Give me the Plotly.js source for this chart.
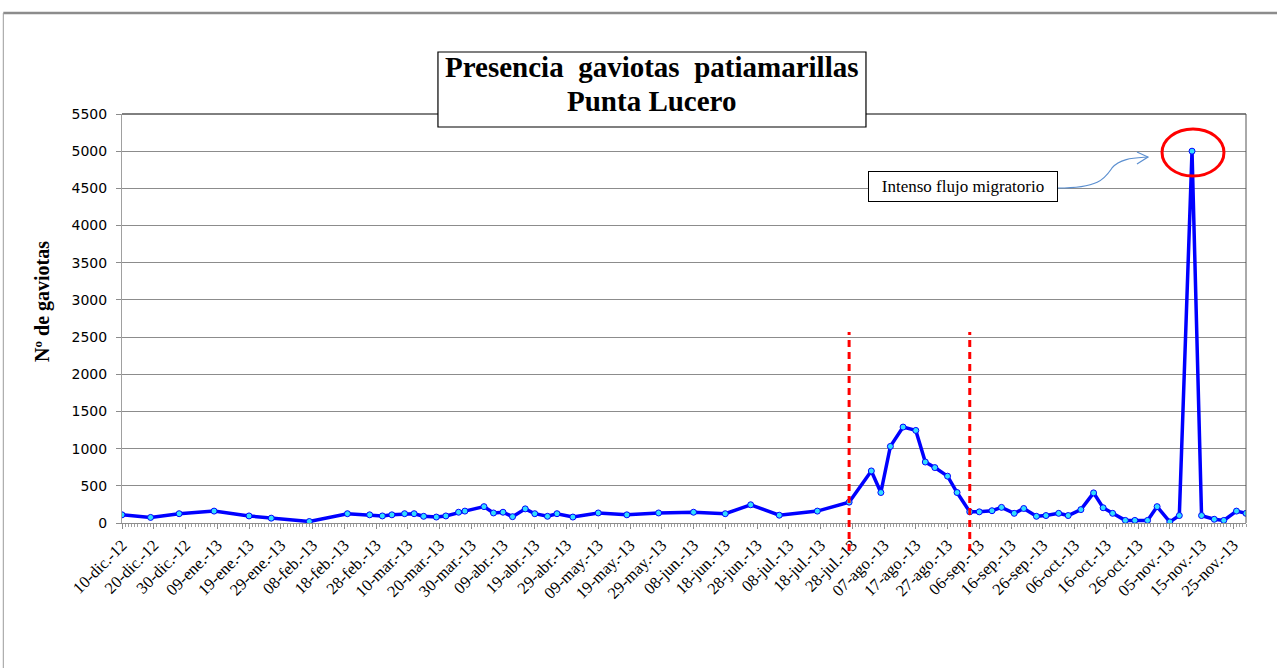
<!DOCTYPE html>
<html>
<head>
<meta charset="utf-8">
<script src="https://cdn.plot.ly/plotly-3.0.1.min.js"></script>
<style>
  html, body { margin: 0; padding: 0; background: #fff; }
  #chart { width: 1277px; height: 668px; }
</style>
</head>
<body>
<div id="chart"></div>
<script>
// ---- data ----
const dates = [
  '2012-12-10','2012-12-19','2012-12-28','2013-01-08','2013-01-19','2013-01-26','2013-02-07',
  '2013-02-19','2013-02-26','2013-03-02','2013-03-05','2013-03-09','2013-03-12','2013-03-15',
  '2013-03-19','2013-03-22','2013-03-26','2013-03-28','2013-04-03','2013-04-06','2013-04-09',
  '2013-04-12','2013-04-16','2013-04-19','2013-04-23','2013-04-26','2013-05-01','2013-05-09',
  '2013-05-18','2013-05-28','2013-06-08','2013-06-18','2013-06-26','2013-07-05','2013-07-17',
  '2013-07-27','2013-08-03','2013-08-06','2013-08-09','2013-08-13','2013-08-17','2013-08-20',
  '2013-08-23','2013-08-27','2013-08-30','2013-09-03','2013-09-06','2013-09-10','2013-09-13',
  '2013-09-17','2013-09-20','2013-09-24','2013-09-27','2013-10-01','2013-10-04','2013-10-08',
  '2013-10-12','2013-10-15','2013-10-18','2013-10-22','2013-10-25','2013-10-29','2013-11-01',
  '2013-11-05','2013-11-08','2013-11-12','2013-11-15','2013-11-19','2013-11-22','2013-11-26',
  '2013-11-29'
];
const gaviotas = [
  110, 75, 125, 160, 95, 65, 20,
  125, 110, 95, 110, 125, 125, 90,
  80, 95, 145, 160, 220, 135, 145,
  85, 190, 125, 90, 125, 80, 135,
  110, 135, 145, 125, 245, 105, 160,
  280, 700, 410, 1030, 1290, 1245, 820,
  745, 630, 410, 150, 150, 165, 210,
  130, 195, 90, 100, 130, 100, 180,
  405, 205, 130, 35, 35, 35, 220,
  15, 100, 5000, 100, 50, 35, 160,
  130
];
const tickDates = [
  '2012-12-10','2012-12-20','2012-12-30','2013-01-09','2013-01-19','2013-01-29','2013-02-08',
  '2013-02-18','2013-02-28','2013-03-10','2013-03-20','2013-03-30','2013-04-09','2013-04-19',
  '2013-04-29','2013-05-09','2013-05-19','2013-05-29','2013-06-08','2013-06-18','2013-06-28',
  '2013-07-08','2013-07-18','2013-07-28','2013-08-07','2013-08-17','2013-08-27','2013-09-06',
  '2013-09-16','2013-09-26','2013-10-06','2013-10-16','2013-10-26','2013-11-05','2013-11-15',
  '2013-11-25'
];
const tickLabels = [
  '10-dic.-12','20-dic.-12','30-dic.-12','09-ene.-13','19-ene.-13','29-ene.-13','08-feb.-13',
  '18-feb.-13','28-feb.-13','10-mar.-13','20-mar.-13','30-mar.-13','09-abr.-13','19-abr.-13',
  '29-abr.-13','09-may.-13','19-may.-13','29-may.-13','08-jun.-13','18-jun.-13','28-jun.-13',
  '08-jul.-13','18-jul.-13','28-jul.-13','07-ago.-13','17-ago.-13','27-ago.-13','06-sep.-13',
  '16-sep.-13','26-sep.-13','06-oct.-13','16-oct.-13','26-oct.-13','05-nov.-13','15-nov.-13',
  '25-nov.-13'
];
const periodMarks = ['2013-07-27', '2013-09-03'];
const titleLines = ['Presencia\u00a0\u00a0gaviotas\u00a0\u00a0patiamarillas', 'Punta Lucero'];
const yTitle = 'Nº de gaviotas';
const noteText = 'Intenso flujo migratorio';

// ---- chart ----
const serif = '"Liberation Serif", "Times New Roman", serif';
const trace = {
  x: dates, y: gaviotas, type: 'scatter', mode: 'lines+markers',
  line: { color: '#0000ff', width: 3.5 },
  marker: { color: '#33ddff', size: 6, line: { color: '#0000ff', width: 1 } },
  hoverinfo: 'x+y'
};

const shapes = [
  // plot area frame (top and right)
  { type: 'line', xref: 'paper', yref: 'paper', x0: 0, x1: 1, y0: 1, y1: 1, line: { color: '#000', width: 1 } },
  { type: 'line', xref: 'paper', yref: 'paper', x0: 1, x1: 1, y0: 0, y1: 1, line: { color: '#555', width: 1 } },
  // outer chart frame
  { type: 'line', xref: 'paper', yref: 'paper', x0: -0.1056, x1: 1.03, y0: 1.2469, y1: 1.2469, line: { color: '#8c8c8c', width: 2.5 } },
  { type: 'line', xref: 'paper', yref: 'paper', x0: -0.1056, x1: -0.1056, y0: -0.36, y1: 1.2469, line: { color: '#9c9c9c', width: 1 } },
  // title box
  { type: 'rect', xref: 'paper', yref: 'paper', x0: 0.2811, x1: 0.6619, y0: 0.9682, y1: 1.1516,
    fillcolor: '#ffffff', line: { color: '#000', width: 1.2 } },
  // red ellipse around peak
  { type: 'circle', xref: 'paper', yref: 'paper', x0: 0.9253, x1: 0.9804, y0: 0.8484, y1: 0.9633, line: { color: '#ff0000', width: 3 } },
  // curved arrow
  { type: 'path', xref: 'paper', yref: 'paper',
    path: 'M 0.8327 0.8191 C 0.8701 0.8191 0.8746 0.8435 0.8808 0.8680 C 0.8879 0.8924 0.9012 0.8924 0.9128 0.8949',
    line: { color: '#5b8fd0', width: 1.2 } },
  { type: 'path', xref: 'paper', yref: 'paper',
    path: 'M 0.9030 0.9071 L 0.9128 0.8949 L 0.9030 0.8778',
    line: { color: '#5b8fd0', width: 1.2 } }
];
periodMarks.forEach(d => shapes.push({
  type: 'line', xref: 'x', yref: 'paper', x0: d, x1: d, y0: -0.0685, y1: 0.467,
  line: { color: '#ff0000', width: 3, dash: '7px,5px' }
}));

const titleFont = { family: serif, size: 29, weight: 'bold', color: '#000' };

const layout = {
  width: 1277, height: 668,
  margin: { l: 122, r: 31, t: 114, b: 145 },
  paper_bgcolor: '#ffffff', plot_bgcolor: '#ffffff',
  showlegend: false,
  font: { family: serif, color: '#000' },
  xaxis: {
    type: 'date', range: ['2012-12-10', '2013-11-29'],
    tickmode: 'array', tickvals: tickDates, ticktext: tickLabels,
    tickangle: -45, tickfont: { family: serif, size: 16.5, color: '#000' },
    ticks: 'outside', ticklen: 5, tickcolor: '#8c8c8c', tickwidth: 1,
    showgrid: false, zeroline: false,
    showline: true, linecolor: '#8c8c8c', linewidth: 1,
    minor: { dtick: 86400000, ticks: 'outside', ticklen: 3, tickcolor: '#a0a0a0', showgrid: false },
    fixedrange: true
  },
  yaxis: {
    range: [0, 5500], dtick: 500, tick0: 0,
    tickfont: { family: '"DejaVu Sans", sans-serif', size: 14, color: '#000' },
    ticks: 'outside', ticklen: 5, tickcolor: '#8c8c8c', ticklabelstandoff: 6,
    showgrid: true, gridcolor: '#8c8c8c', gridwidth: 1,
    zeroline: false, showline: true, linecolor: '#a0a0a0', linewidth: 1,
    fixedrange: true
  },
  shapes: shapes,
  annotations: [
    { xref: 'paper', yref: 'paper', x: 0.4715, y: 1.1137, xanchor: 'center', yanchor: 'middle',
      text: titleLines[0], showarrow: false, font: titleFont },
    { xref: 'paper', yref: 'paper', x: 0.4715, y: 1.0330, xanchor: 'center', yanchor: 'middle',
      text: titleLines[1], showarrow: false, font: titleFont },
    { xref: 'paper', yref: 'paper', x: -0.0703, y: 0.5428, xanchor: 'center', yanchor: 'middle',
      text: yTitle, textangle: -90, showarrow: false,
      font: { family: serif, size: 20, weight: 'bold', color: '#000' } },
    { xref: 'paper', yref: 'paper', x: 0.7478, y: 0.8227, xanchor: 'center', yanchor: 'middle',
      text: noteText, showarrow: false,
      font: { family: serif, size: 17, color: '#000' },
      bgcolor: '#ffffff', bordercolor: '#000', borderwidth: 1, borderpad: 1,
      width: 186, height: 27, align: 'center' }
  ]
};

Plotly.newPlot('chart', [trace], layout, { displayModeBar: false });
</script>
</body>
</html>
